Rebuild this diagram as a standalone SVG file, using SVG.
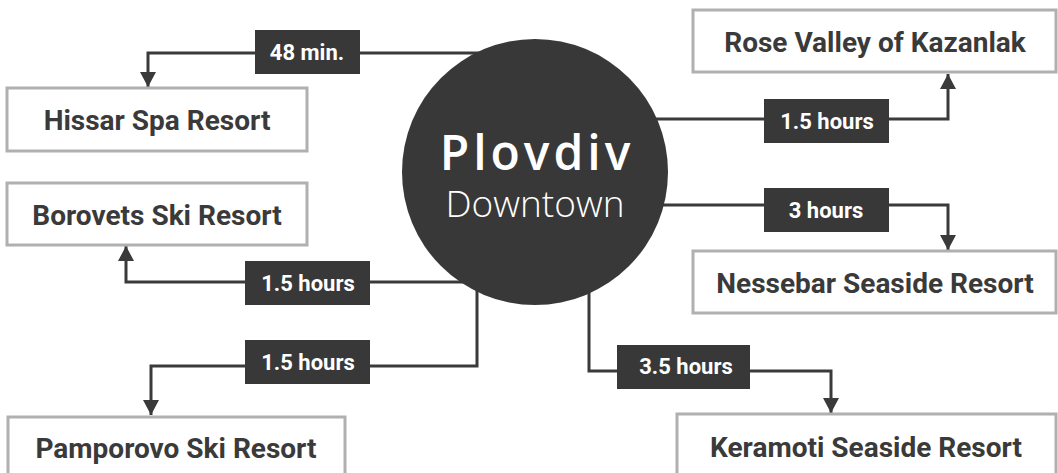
<svg xmlns="http://www.w3.org/2000/svg" width="1058" height="473" viewBox="0 0 1058 473">
<defs>
<style>
.box{fill:#ffffff;stroke:#b0b0b0;stroke-width:3}
.btxt{font-family:Roboto,"Liberation Sans",sans-serif;font-weight:700;font-size:28px;fill:#3a3a3a;text-anchor:middle}
.lbl{fill:#383838}
.ltxt{font-family:Roboto,"Liberation Sans",sans-serif;font-weight:700;font-size:22px;fill:#ffffff;text-anchor:middle}
.con{fill:none;stroke:#3a3a3a;stroke-width:3}
</style>
<marker id="arr" markerUnits="userSpaceOnUse" markerWidth="16" markerHeight="16" refX="15" refY="8" orient="auto" viewBox="0 0 16 16">
<path d="M0,0 L15,8 L0,16 z" fill="#3a3a3a"/>
</marker>
</defs>
<rect width="1058" height="473" fill="#ffffff"/>
<g id="connectors">
<path class="con" d="M480 53 H148 V87" marker-end="url(#arr)"/>
<path class="con" d="M600 119 H948 V74" marker-end="url(#arr)"/>
<path class="con" d="M600 205 H948 V250" marker-end="url(#arr)"/>
<path class="con" d="M470 282 H126 V246" marker-end="url(#arr)"/>
<path class="con" d="M477 250 V366 H151 V415" marker-end="url(#arr)"/>
<path class="con" d="M589 250 V371 H831 V413" marker-end="url(#arr)"/>
</g>
<g id="labels">
<rect class="lbl" x="255" y="30" width="105" height="44"/>
<text class="ltxt" x="307" y="60">48 min.</text>
<rect class="lbl" x="764" y="99" width="125" height="44"/>
<text class="ltxt" x="827" y="129">1.5 hours</text>
<rect class="lbl" x="764" y="188" width="125" height="44"/>
<text class="ltxt" x="826" y="218">3 hours</text>
<rect class="lbl" x="245" y="261" width="125" height="44"/>
<text class="ltxt" x="308" y="291">1.5 hours</text>
<rect class="lbl" x="245" y="340" width="125" height="44"/>
<text class="ltxt" x="308" y="370">1.5 hours</text>
<rect class="lbl" x="617" y="345" width="133" height="44"/>
<text class="ltxt" x="686" y="374">3.5 hours</text>
</g>
<g id="plovdiv">
<circle cx="535" cy="172" r="133" fill="#383838"/>
<text x="537" y="170" font-family="'Open Sans','Liberation Sans',sans-serif" font-weight="600" font-size="48" letter-spacing="4" fill="#ffffff" text-anchor="middle">Plovdiv</text>
<text x="535" y="217" font-family="'Open Sans','Liberation Sans',sans-serif" font-weight="300" font-size="37" fill="#ffffff" text-anchor="middle">Downtown</text>
</g>
<g id="hissar">
<rect class="box" x="7" y="88" width="300" height="63"/>
<text class="btxt" x="157" y="130">Hissar Spa Resort</text>
</g>
<g id="borovets">
<rect class="box" x="7" y="183" width="300" height="62"/>
<text class="btxt" x="157" y="225">Borovets Ski Resort</text>
</g>
<g id="pamporovo">
<rect class="box" x="8" y="417" width="337" height="62"/>
<text class="btxt" x="176" y="458">Pamporovo Ski Resort</text>
</g>
<g id="rose">
<rect class="box" x="693" y="10" width="363" height="62"/>
<text class="btxt" x="875" y="52">Rose Valley of Kazanlak</text>
</g>
<g id="nessebar">
<rect class="box" x="693" y="251" width="363" height="62"/>
<text class="btxt" x="875" y="293">Nessebar Seaside Resort</text>
</g>
<g id="keramoti">
<rect class="box" x="677" y="414" width="379" height="62"/>
<text class="btxt" x="866" y="457">Keramoti Seaside Resort</text>
</g>
</svg>
